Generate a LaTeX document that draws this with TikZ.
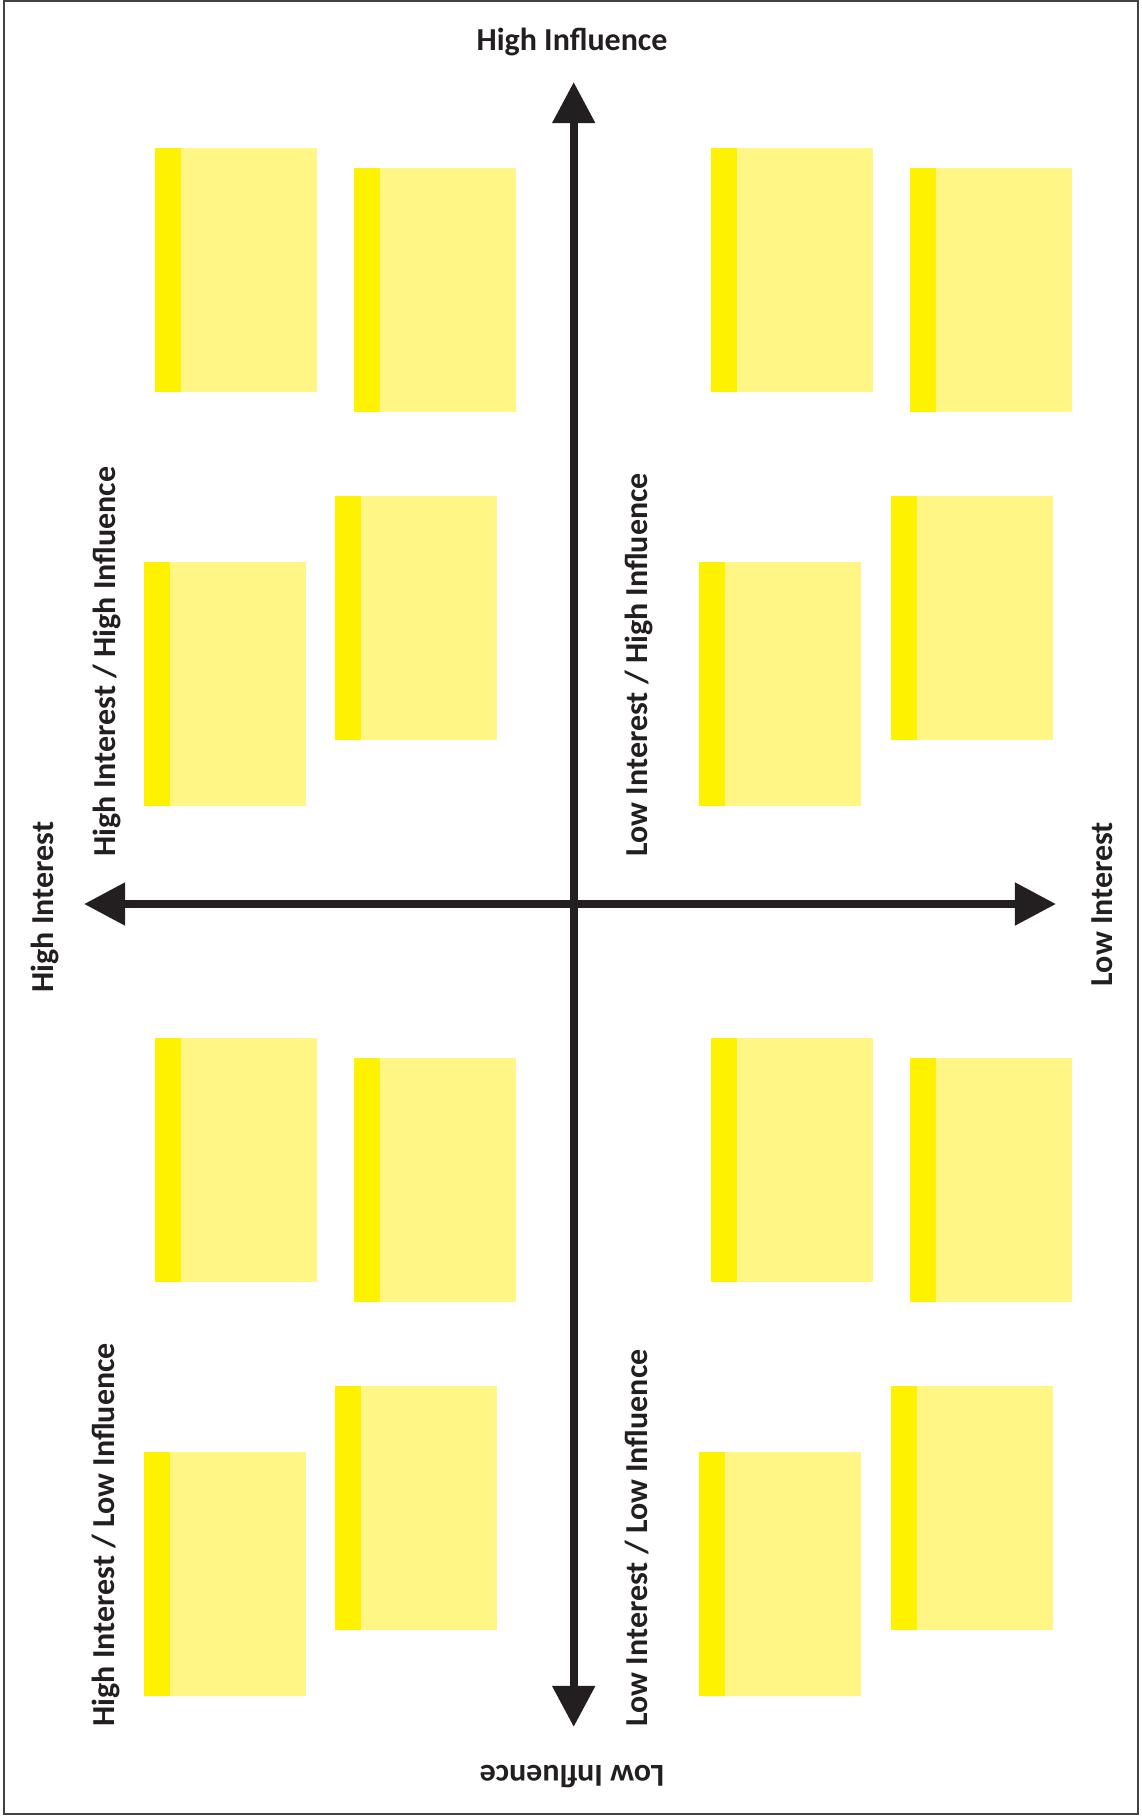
\documentclass[tikz,border=0pt]{standalone}
\usepackage{fontspec}
\setmainfont{Carlito}
\usetikzlibrary{arrows.meta,positioning}
\definecolor{ink}{HTML}{231F20}
\definecolor{notelight}{HTML}{FFF685}
\definecolor{notedark}{HTML}{FFF200}
\tikzset{
  axis/.style={
    draw = ink,
    line width = 0.08cm,
    {Triangle[length=0.41cm,width=0.41cm]}-{Triangle[length=0.41cm,width=0.41cm]}
  },
  frame/.style={
    draw = ink!85,
    line width = 0.02cm
  },
  lbl/.style={
    text = ink,
    inner sep = 0pt,
    font = \fontsize{9.1}{10}\selectfont\bfseries
  },
  quad/.style={
    lbl,
    rotate = 90,
    anchor = base west
  },
}

\begin{document}
\begin{tikzpicture}[x=0.01cm,y=-0.01cm]
  \useasboundingbox (0,0) rectangle (1141,1817);
  \draw[frame] (4,1) rectangle (1138,1814);
  \foreach \dx/\dy in {0/0,555.5/0,0/890,555.5/890}{
    \foreach \nx/\ny in {155/148,354/168,143.5/562,335/496}{
      \fill[notelight] (\nx+\dx,\ny+\dy) rectangle ++(162,244);
      \fill[notedark] (\nx+\dx,\ny+\dy) rectangle ++(26,244);
    }
  }
  \coordinate (top) at (573.7,82);
  \coordinate (bottom) at (573.7,1727);
  \coordinate (left) at (84,904);
  \coordinate (right) at (1056,904);
  \draw[axis] (bottom) -- (top);
  \draw[axis] (left) -- (right);
  \node[lbl,anchor=base] (hinf) at (572,50) {High Influence};
  \node[lbl,anchor=base,rotate=180] (linf) at (572,1765) {Low Influence};
  \node[lbl,anchor=base,rotate=90] (hint) at (54,907) {High Interest};
  \node[lbl,anchor=base,rotate=90] (lint) at (1112,904) {Low Interest};
  \node[quad] (hihi) at (115,857) {High Interest / High Influence};
  \node[quad] (lohi) at (647,857) {Low Interest / High Influence};
  \node[quad] (hilo) at (114,1727) {High Interest / Low Influence};
  \node[quad] (lolo) at (647,1727) {Low Interest / Low Influence};
\end{tikzpicture}
\end{document}
